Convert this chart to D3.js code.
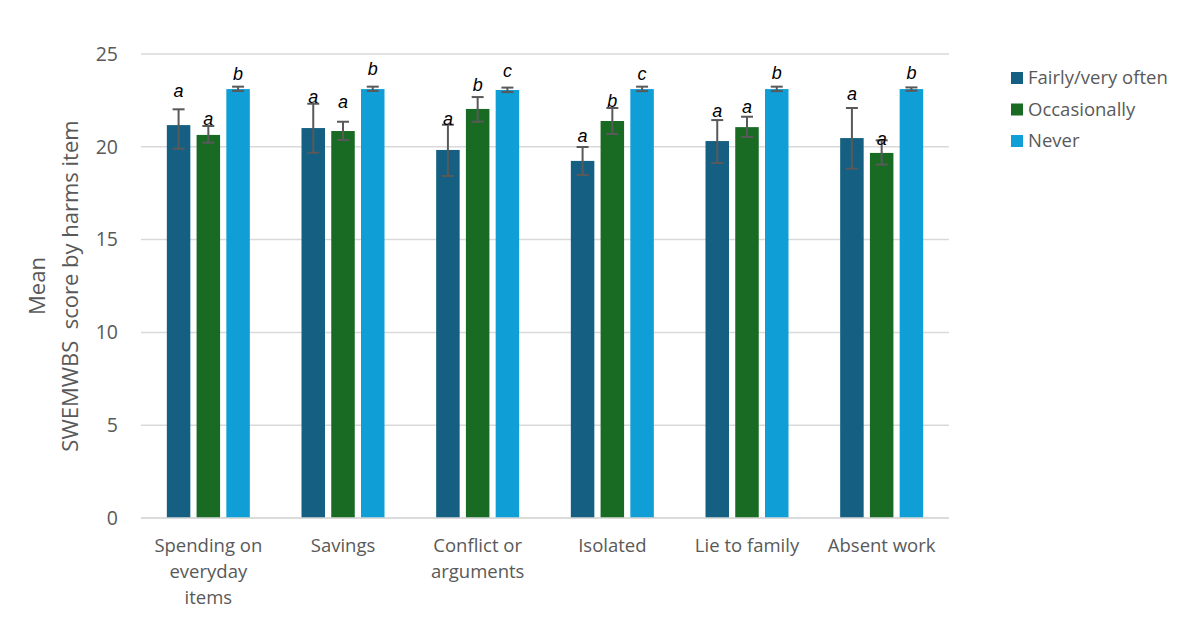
<!DOCTYPE html>
<html><head><meta charset="utf-8">
<script src="https://cdn.jsdelivr.net/npm/d3@7"></script>
<style>
body{margin:0;background:#fff;}
svg{display:block;font-family:"Open Sans",sans-serif;}
</style></head>
<body><svg id="chart" width="1182" height="624"></svg>
<script>
const categories = ["Spending on\neveryday\nitems","Savings","Conflict or\narguments","Isolated","Lie to family","Absent work"];
const seriesNames = ["Fairly/very often","Occasionally","Never"];
const seriesColors = ["#156082","#196B24","#0F9ED5"];
const meanFairly = [21.17,21.01,19.83,19.24,20.31,20.47];
const meanOccasionally = [20.64,20.85,22.04,21.39,21.06,19.67];
const meanNever = [23.11,23.11,23.06,23.11,23.11,23.11];
const lowFairly = [19.90,19.68,18.43,18.48,19.13,18.82];
const highFairly = [22.02,22.32,21.19,19.99,21.44,22.09];
const lowOccasionally = [20.22,20.37,21.35,20.69,20.53,19.04];
const highOccasionally = [21.12,21.35,22.68,22.09,21.62,20.35];
const lowNever = [23.01,23.01,22.95,23.00,23.00,23.02];
const highNever = [23.24,23.24,23.19,23.24,23.24,23.20];
const lettersFairly = ["a","a","a","a","a","a"];
const lettersOccasionally = ["a","a","b","b","a","a"];
const lettersNever = ["b","b","c","c","b","b"];
const letterAtFairly = [23.0,22.7,21.5,20.58,21.93,22.88];
const letterAtOccasionally = [21.5,22.41,23.33,22.48,22.16,20.42];
const letterAtNever = [23.92,24.19,24.1,23.92,23.98,23.98];
const yTicks = [0,5,10,15,20,25];
const yTitle = ["Mean","SWEMWBS  score by harms item"];

const means = [meanFairly, meanOccasionally, meanNever];
const lows = [lowFairly, lowOccasionally, lowNever];
const highs = [highFairly, highOccasionally, highNever];
const letters = [lettersFairly, lettersOccasionally, lettersNever];
const letterAt = [letterAtFairly, letterAtOccasionally, letterAtNever];

const svg = d3.select("#chart");
const plotL = 141, plotR = 949, plotT = 54, plotB = 518;
const textColor = "#595959";

const y = d3.scaleLinear().domain([0,25]).range([plotB, plotT]);
const x0 = d3.scaleBand().domain(d3.range(categories.length)).range([plotL, plotR]).padding(0);
const innerW = 83;
const x1 = d3.scaleBand().domain(d3.range(seriesNames.length))
  .range([(x0.bandwidth()-innerW)/2, (x0.bandwidth()+innerW)/2]).paddingInner(0.21).paddingOuter(0);

// gridlines
svg.append("g").selectAll("line").data(yTicks).join("line")
  .attr("x1", plotL).attr("x2", plotR)
  .attr("y1", d => y(d)).attr("y2", d => y(d))
  .attr("stroke", "#d9d9d9").attr("stroke-width", 1.5);

// y tick labels
svg.append("g").selectAll("text").data(yTicks).join("text")
  .attr("x", 118).attr("y", d => y(d)).attr("dy", "0.35em")
  .attr("text-anchor", "end").attr("fill", textColor)
  .attr("font-size", 19.5).text(d => d);

// y title
const yt = svg.append("text").attr("transform", "translate(0,286) rotate(-90)")
  .attr("text-anchor", "middle").attr("fill", textColor).attr("font-size", 22);
yt.append("tspan").attr("x", 0).attr("y", 45).text(yTitle[0]);
yt.append("tspan").attr("x", 0).attr("y", 78).attr("xml:space","preserve").text(yTitle[1]);

// bars
const groups = svg.append("g").selectAll("g").data(categories).join("g")
  .attr("transform", (d,i) => `translate(${x0(i)},0)`);

groups.each(function(cat, ci){
  const g = d3.select(this);
  seriesNames.forEach((s, si) => {
    const bx = x1(si), bw = x1.bandwidth(), cx = bx + bw/2;
    g.append("rect").attr("x", bx).attr("width", bw)
      .attr("y", y(means[si][ci])).attr("height", y(0) - y(means[si][ci]))
      .attr("fill", seriesColors[si]);
    const lo = y(lows[si][ci]), hi = y(highs[si][ci]);
    g.append("line").attr("x1", cx).attr("x2", cx).attr("y1", lo).attr("y2", hi)
      .attr("stroke", "#595959").attr("stroke-width", 2);
    [lo, hi].forEach(v => g.append("line").attr("x1", cx-6).attr("x2", cx+6)
      .attr("y1", v).attr("y2", v).attr("stroke", "#595959").attr("stroke-width", 2));
    g.append("text").attr("x", cx).attr("y", y(letterAt[si][ci])).attr("dy", "0.35em")
      .attr("text-anchor", "middle").attr("font-style", "italic")
      .attr("font-family", "Liberation Sans, Arial, sans-serif")
      .attr("font-size", 18).attr("fill", "#000").text(letters[si][ci]);
  });
});

// baseline
svg.append("line").attr("x1", plotL).attr("x2", plotR).attr("y1", y(0)).attr("y2", y(0))
  .attr("stroke", "#d9d9d9").attr("stroke-width", 1.5);

// category labels
svg.append("g").selectAll("text").data(categories).join("text")
  .attr("text-anchor", "middle").attr("fill", textColor).attr("font-size", 18.5)
  .attr("transform", (d,i) => `translate(${x0(i)+x0.bandwidth()/2},0)`)
  .each(function(d){
    const t = d3.select(this);
    d.split("\n").forEach((line, li) => {
      t.append("tspan").attr("x", 0).attr("y", 551.5 + li*26).text(line);
    });
  });

// legend
const legend = svg.append("g").selectAll("g").data(seriesNames).join("g")
  .attr("transform", (d,i) => `translate(1011,${78 + i*31.5})`);
legend.append("rect").attr("x", 0).attr("y", -6).attr("width", 12).attr("height", 12)
  .attr("fill", (d,i) => seriesColors[i]);
legend.append("text").attr("x", 17).attr("y", 0).attr("dy", "0.35em")
  .attr("fill", textColor).attr("font-size", 18.5).text(d => d);
</script></body></html>
